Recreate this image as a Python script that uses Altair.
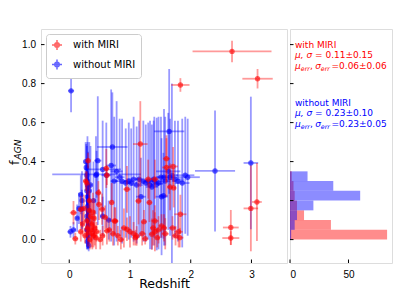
import altair as alt
import pandas as pd

# ---------------- data ----------------
groups = ["with MIRI", "without MIRI"]
colors = ["#ff0000", "#0000ff"]

# with MIRI (red): redshift, f_AGN, redshift error, f_AGN error
red_z = [2.68, 3.10, 1.83, 2.66, 2.66, 2.99, 3.09,
         0.31, 0.27, 0.29, 0.29, 0.33, 0.35, 0.36, 0.38, 0.40, 0.42, 0.44, 0.34, 0.31, 0.37,
         0.41, 0.39, 0.33, 0.30, 0.26, 0.45, 0.48, 0.54, 0.62, 0.51, 0.07, 0.10, 0.19, 0.22,
         0.24, 0.61, 0.62, 0.70, 0.745, 0.66, 0.80, 0.95, 0.95, 0.90, 1.14, 1.11, 1.09, 1.06,
         1.17, 1.23, 1.30, 1.32, 1.36, 1.41, 1.41, 1.41, 1.47, 1.52, 1.58, 1.60, 1.60, 1.66,
         1.71, 1.72, 1.70, 1.80, 1.83, 1.82, 1.25, 0.85, 0.59, 0.76, 0.49, 0.19,
         1.00, 1.20, 1.45, 1.56, 1.75, 0.72, 0.55, 1.38]
red_f = [0.965, 0.825, 0.793, 0.062, 0.008, 0.16, 0.193,
         0.405, 0.30, 0.29, 0.096, 0.15, 0.12, 0.05, 0.03, 0.02, 0.06, 0.01, 0.00, 0.035, 0.08,
         0.11, 0.14, 0.20, 0.06, 0.02, 0.04, 0.24, 0.156, 0.045, 0.00, 0.138, 0.005, 0.04, 0.08,
         0.16, 0.365, 0.33, 0.19, 0.096, 0.05, 0.02, 0.258, 0.053, 0.06, 0.198, 0.019, 0.01, 0.03,
         0.49, 0.092, 0.31, 0.19, 0.028, 0.31, 0.096, 0.04, 0.05, 0.07, 0.03, 0.415, 0.37, 0.27,
         0.375, 0.265, 0.06, 0.04, 0.13, 0.01, 0.005, 0.00, 0.115, 0.095, 0.18, 0.155,
         0.04, 0.03, 0.01, 0.06, 0.02, 0.03, 0.02, 0.06]
red_zerr = [0.65, 0.25, 0.15, 0.13, 0.14, 0.12, 0.08,
            0.04, 0.04, 0.03, 0.04, 0.03, 0.03, 0.04, 0.03, 0.05, 0.03, 0.04, 0.03, 0.03, 0.04,
            0.03, 0.04, 0.03, 0.04, 0.03, 0.05, 0.05, 0.05, 0.05, 0.04, 0.06, 0.05, 0.04, 0.03,
            0.04, 0.05, 0.05, 0.04, 0.05, 0.04, 0.05, 0.06, 0.06, 0.05, 0.05, 0.06, 0.05, 0.06,
            0.12, 0.05, 0.06, 0.05, 0.05, 0.06, 0.06, 0.05, 0.06, 0.05, 0.06, 0.06, 0.07, 0.05,
            0.08, 0.04, 0.06, 0.07, 0.10, 0.06, 0.05, 0.05, 0.05, 0.05, 0.05, 0.04,
            0.05, 0.05, 0.05, 0.05, 0.06, 0.05, 0.04, 0.05]
red_ferr = [0.055, 0.05, 0.035, 0.09, 0.035, 0.22, 0.20,
            0.04, 0.05, 0.06, 0.08, 0.10, 0.08, 0.07, 0.08, 0.06, 0.09, 0.06, 0.05, 0.07, 0.12,
            0.10, 0.10, 0.09, 0.05, 0.04, 0.05, 0.06, 0.08, 0.07, 0.05, 0.06, 0.03, 0.05, 0.06,
            0.07, 0.10, 0.05, 0.10, 0.07, 0.06, 0.05, 0.12, 0.06, 0.10, 0.12, 0.05, 0.04, 0.06,
            0.22, 0.06, 0.10, 0.10, 0.08, 0.10, 0.08, 0.10, 0.07, 0.06, 0.08, 0.12, 0.15, 0.12,
            0.10, 0.10, 0.06, 0.08, 0.10, 0.05, 0.03, 0.05, 0.06, 0.07, 0.08, 0.07,
            0.08, 0.06, 0.05, 0.07, 0.05, 0.06, 0.05, 0.09]

# without MIRI (blue)
blue_z = [0.03, 2.40, 2.99, 1.645, 0.71, 0.45, 0.55, 0.47,
          0.61, 0.69, 0.78, 0.87, 0.93, 1.06, 1.11, 1.22, 1.26, 1.36, 1.40, 1.44, 1.47, 1.52,
          1.56, 1.63, 1.69, 1.74, 1.86, 1.91, 1.95, 1.18, 1.39, 1.51, 1.55,
          0.02, 0.07, 0.13, 0.16, 0.19, 0.21, 0.21, 0.27, 0.28, 0.29, 0.30, 0.31, 0.29, 0.30,
          0.31, 0.30, 0.32, 0.29, 0.30, 0.31, 0.30, 0.31, 0.30, 0.32, 0.33, 0.35, 0.40, 0.44,
          0.65, 0.55,
          0.74, 0.83, 0.98, 1.02, 1.15, 1.30, 1.33, 1.58, 1.66, 1.79, 0.30, 0.31, 0.29]
blue_f = [0.763, 0.352, 0.393, 0.555, 0.475, 0.335, 0.36, 0.405,
          0.33, 0.38, 0.35, 0.30, 0.29, 0.31, 0.28, 0.30, 0.29, 0.27, 0.30, 0.285, 0.29, 0.22,
          0.32, 0.35, 0.33, 0.31, 0.29, 0.33, 0.32, 0.22, 0.31, 0.32, 0.225,
          0.04, 0.05, 0.11, 0.16, 0.23, 0.20, 0.156, 0.40, 0.37, 0.33, 0.30, 0.27, 0.25, 0.22,
          0.20, 0.17, 0.15, 0.12, 0.10, 0.07, 0.05, 0.02, -0.01, -0.03, 0.25, 0.28, 0.20, 0.33,
          0.10, 0.12,
          0.30, 0.32, 0.30, 0.29, 0.31, 0.30, 0.28, 0.30, 0.32, 0.30, 0.28, 0.15, 0.05]
blue_zerr = [0.05, 0.33, 0.12, 0.25, 0.25, 0.73, 0.30, 0.06,
             0.08, 0.08, 0.10, 0.12, 0.10, 0.12, 0.10, 0.08, 0.10, 0.10, 0.12, 0.10, 0.08, 0.10,
             0.12, 0.20, 0.10, 0.15, 0.12, 0.15, 0.20, 0.08, 0.07, 0.08, 0.07,
             0.05, 0.04, 0.03, 0.03, 0.03, 0.02, 0.03, 0.02, 0.02, 0.02, 0.02, 0.02, 0.02, 0.02,
             0.03, 0.02, 0.02, 0.02, 0.02, 0.02, 0.02, 0.02, 0.02, 0.02, 0.02, 0.03, 0.03, 0.04,
             0.04, 0.04,
             0.06, 0.08, 0.08, 0.10, 0.06, 0.08, 0.07, 0.08, 0.08, 0.10, 0.02, 0.02, 0.02]
blue_ferr = [0.11, 0.31, 0.34, 0.32, 0.28, 0.12, 0.25, 0.33,
             0.27, 0.39, 0.36, 0.32, 0.28, 0.32, 0.30, 0.31, 0.30, 0.32, 0.33, 0.34, 0.34, 0.30,
             0.35, 0.30, 0.47, 0.30, 0.33, 0.30, 0.30, 0.20, 0.30, 0.31, 0.22,
             0.03, 0.04, 0.07, 0.08, 0.10, 0.15, 0.10, 0.10, 0.12, 0.15, 0.20, 0.18, 0.15, 0.20,
             0.12, 0.15, 0.10, 0.12, 0.10, 0.09, 0.08, 0.06, 0.04, 0.03, 0.25, 0.20, 0.20, 0.20,
             0.10, 0.10,
             0.33, 0.30, 0.30, 0.28, 0.30, 0.30, 0.33, 0.33, 0.30, 0.31, 0.25, 0.20, 0.10]

# histogram of the right panel (bin edges in f_AGN, counts)
bin_lo = [0.00, 0.05, 0.10, 0.15, 0.20, 0.25, 0.30]
bin_hi = [0.05, 0.10, 0.15, 0.20, 0.25, 0.30, 0.35]
red_counts = [83, 35, 12, 6, 4, 3, 1.5]
blue_counts = [1, 4, 6, 20, 60, 37, 15]

# axis ticks
main_xticks = [0, 1, 2, 3]
yticks = [0.0, 0.2, 0.4, 0.6, 0.8, 1.0]
hist_xticks = [0, 50]

# ---------------- tables ----------------
rows = []
for g, zs, fs, ze, fe in [("without MIRI", blue_z, blue_f, blue_zerr, blue_ferr),
                          ("with MIRI", red_z, red_f, red_zerr, red_ferr)]:
    for z, f, a, b in zip(zs, fs, ze, fe):
        rows.append({"group": g, "z": z, "f": f, "zlo": z - a, "zhi": z + a,
                     "flo": f - b, "fhi": f + b})
df = pd.DataFrame(rows)

hrows = []
for g, c, cs in [("with MIRI", colors[0], red_counts), ("without MIRI", colors[1], blue_counts)]:
    for lo, hi, n in zip(bin_lo, bin_hi, cs):
        hrows.append({"group": g, "c": c, "lo": lo, "hi": hi, "count": n})
hdf = pd.DataFrame(hrows)

# ---------------- layout constants ----------------
W1, W2, H = 246, 102, 234
FONT = "DejaVu Sans"
xscale = alt.Scale(domain=[-0.465, 3.585], nice=False, zero=False)
yscale = alt.Scale(domain=[-0.12, 1.08], nice=False, zero=False)
x2scale = alt.Scale(domain=[0, 87.2], nice=False, zero=False)
cscale = alt.Scale(domain=groups, range=colors)

xaxis = alt.Axis(values=main_xticks, format="d", title="Redshift", ticks=False, tickSize=0,
                 domain=False, grid=False, labelPadding=6.5, titleFontSize=12.5,
                 titleFontWeight="normal", titleFont=FONT, titleColor="black",
                 titleY=24.7, titleBaseline="alphabetic")
yaxis = alt.Axis(values=yticks, format=".1f", title=None, ticks=False, tickSize=0,
                 domain=False, grid=False, labelPadding=5.5)

sym = ("M-1,0L1,0M0,-1L0,1M-0.45,0A0.45,0.45,0,1,1,0.45,0"
       "A0.45,0.45,0,1,1,-0.45,0Z")
leg = alt.Legend(title=None, orient="none", legendX=5, legendY=5, symbolType=sym,
                 symbolSize=100, symbolStrokeWidth=1.5, symbolOpacity=0.6,
                 labelFontSize=10, labelFont=FONT, labelColor="black", padding=5,
                 rowPadding=3.5, strokeColor="#cccccc", fillColor="white",
                 cornerRadius=3, labelOffset=10)

X = lambda f: alt.X(f, scale=xscale, axis=xaxis)
Y = lambda f: alt.Y(f, scale=yscale, axis=yaxis)
COL = alt.Color("group:N", scale=cscale, legend=leg)


def series(g):
    d = alt.Chart(df).transform_filter(alt.datum.group == g)
    h = d.mark_rule(strokeWidth=1.8, opacity=0.4, clip=True).encode(
        x=X("zlo:Q"), x2="zhi:Q", y=Y("f:Q"), color=COL)
    v = d.mark_rule(strokeWidth=1.8, opacity=0.4, clip=True).encode(
        x=X("z:Q"), y=Y("flo:Q"), y2="fhi:Q", color=COL)
    p = d.mark_point(filled=False, size=10, strokeWidth=2.2, opacity=0.6, clip=True).encode(
        x=X("z:Q"), y=Y("f:Q"), color=COL)
    return [h, v, p]


xt = alt.Chart(pd.DataFrame({"v": main_xticks})).mark_rule(color="black").encode(
    x=X("v:Q"), y=alt.value(H), y2=alt.value(H - 3.5))
yt = alt.Chart(pd.DataFrame({"v": yticks})).mark_rule(color="black").encode(
    y=Y("v:Q"), x=alt.value(0), x2=alt.value(3.5))

ytitle_f = alt.Chart(pd.DataFrame({"t": ["f"]})).mark_text(
    angle=270, align="left", baseline="middle", font=FONT, fontSize=13, color="black"
).encode(text="t:N", x=alt.value(-26.5), y=alt.value(136))
ytitle_sub = alt.Chart(pd.DataFrame({"t": ["AGN"]})).mark_text(
    angle=270, align="left", baseline="middle", font=FONT, fontSize=9, fontStyle="italic",
    color="black"
).encode(text="t:N", x=alt.value(-23), y=alt.value(130.5))

main = alt.layer(*series("without MIRI"), *series("with MIRI"), xt, yt,
                 ytitle_f, ytitle_sub).properties(width=W1, height=H)

# ---------------- right histogram panel ----------------
x2axis = alt.Axis(values=hist_xticks, format="d", title=None, ticks=False, tickSize=0,
                  domain=False, grid=False, labelPadding=6.5)
bars = alt.Chart(hdf).mark_rect(opacity=0.45).encode(
    x=alt.X("count:Q", scale=x2scale, axis=x2axis), x2=alt.X2(datum=0),
    y=alt.Y("lo:Q", scale=yscale, axis=None), y2="hi:Q",
    color=alt.Color("c:N", scale=None))
rxt = alt.Chart(pd.DataFrame({"v": hist_xticks})).mark_rule(color="black").encode(
    x=alt.X("v:Q", scale=x2scale, axis=x2axis), y=alt.value(H), y2=alt.value(H - 3.5))
ryt = alt.Chart(pd.DataFrame({"v": yticks})).mark_rule(color="black").encode(
    y=alt.Y("v:Q", scale=yscale, axis=None), x=alt.value(0), x2=alt.value(3.5))

# annotation pieces: text, x, y (pixels in the panel), font size, italic, colour
ann = [
    ("with MIRI", 5, 15.7, 9, False, "#ff0000"),
    ("μ, σ", 5, 25.7, 9, True, "#ff0000"),
    ("= 0.11±0.15", 25, 25.7, 9, False, "#ff0000"),
    ("μ", 5, 37, 9, True, "#ff0000"),
    ("err", 10.8, 39.5, 6.3, True, "#ff0000"),
    (",", 19.9, 37, 9, False, "#ff0000"),
    ("σ", 25.2, 37, 9, True, "#ff0000"),
    ("err", 30.8, 39.5, 6.3, True, "#ff0000"),
    ("=0.06±0.06", 41.5, 37, 9, False, "#ff0000"),
    ("without MIRI", 5, 73.8, 9, False, "#0000ff"),
    ("μ, σ", 5, 84.3, 9, True, "#0000ff"),
    ("= 0.23±0.10", 25, 84.3, 9, False, "#0000ff"),
    ("μ", 5, 95.3, 9, True, "#0000ff"),
    ("err", 10.8, 97.8, 6.3, True, "#0000ff"),
    (",", 19.9, 95.3, 9, False, "#0000ff"),
    ("σ", 25.2, 95.3, 9, True, "#0000ff"),
    ("err", 30.8, 97.8, 6.3, True, "#0000ff"),
    ("=0.23±0.05", 41.5, 95.3, 9, False, "#0000ff"),
]
adf = pd.DataFrame(ann, columns=["t", "px", "py", "fs", "it", "c"])


def ann_layer(italic):
    return alt.Chart(adf).transform_filter(alt.datum.it == italic).mark_text(
        align="left", baseline="middle", font=FONT,
        fontStyle="italic" if italic else "normal"
    ).encode(text="t:N", x=alt.X("px:Q", scale=None), y=alt.Y("py:Q", scale=None),
             size=alt.Size("fs:Q", scale=None), color=alt.Color("c:N", scale=None))


right = alt.layer(bars, rxt, ryt, ann_layer(False), ann_layer(True)).properties(
    width=W2, height=H)

chart = alt.hconcat(main, right, spacing=1).resolve_scale(
    x="independent").properties(
    padding={"left": 0, "top": 20, "right": 5, "bottom": 0}
).configure_view(stroke="black", strokeWidth=1).configure_axis(
    labelFont=FONT, labelFontSize=10, labelColor="black", titleFont=FONT,
    titleColor="black", titleFontWeight="normal"
).configure(background="white")

chart.save("out.html", embed_options={"renderer": "svg", "actions": False})
